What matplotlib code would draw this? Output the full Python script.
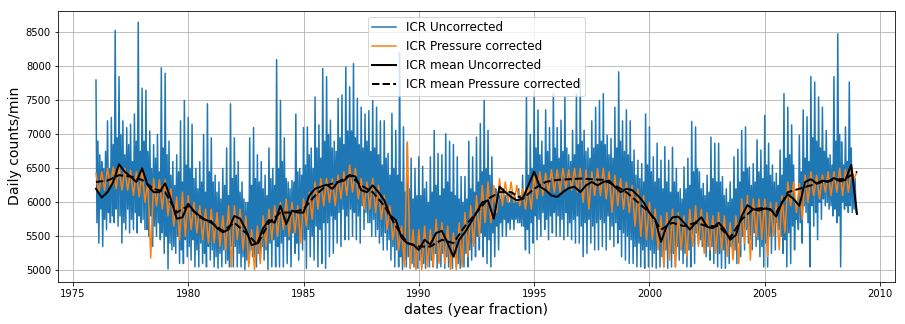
import numpy as np
import matplotlib
matplotlib.use("Agg")
import matplotlib.pyplot as plt

# ICR uncorrected: spike tops / spike bottoms, 6 readings per year (1976 .. 2008)
icr_hi = [
    7800, 6700, 6500, 7200, 7250, 8530,  # 1976
    7850, 7200, 7100, 7150, 7300, 8650,  # 1977
    7680, 7650, 7050, 6850, 7000, 7980,  # 1978
    7900, 6900, 6600, 6700, 7200, 7500,  # 1979
    7250, 7150, 6500, 6600, 7000, 7450,  # 1980
    6950, 6400, 6300, 6500, 6800, 7450,  # 1981
    6950, 6600, 6300, 6000, 6950, 7100,  # 1982
    6700, 6600, 6400, 6800, 6500, 8100,  # 1983
    7500, 6950, 6300, 6320, 7300, 6500,  # 1984
    7100, 7110, 6800, 7550, 7140, 7970,  # 1985
    7850, 7210, 6900, 7530, 7580, 7990,  # 1986
    7700, 8040, 7530, 7400, 7300, 7350,  # 1987
    7500, 7400, 7200, 7200, 6720, 7310,  # 1988
    7060, 8200, 7110, 6870, 6650, 6500,  # 1989
    6670, 6530, 6300, 6670, 7060, 6720,  # 1990
    6700, 7010, 6900, 6850, 6670, 6380,  # 1991
    6380, 6900, 6670, 6960, 7160, 7500,  # 1992
    7060, 6670, 6200, 6100, 6200, 6150,  # 1993
    6150, 6100, 6200, 6400, 7550, 7000,  # 1994
    7650, 7360, 6900, 7360, 7100, 7600,  # 1995
    7100, 7210, 7550, 6700, 7060, 7600,  # 1996
    7800, 7060, 6800, 7200, 7400, 7500,  # 1997
    7600, 6990, 6940, 7400, 7920, 7200,  # 1998
    7360, 7200, 6770, 6620, 6570, 7300,  # 1999
    7110, 6670, 6870, 6620, 6820, 6620,  # 2000
    6810, 6500, 6200, 6520, 6650, 7190,  # 2001
    7110, 6450, 6280, 6400, 6960, 6870,  # 2002
    6870, 6380, 6200, 6300, 6670, 6780,  # 2003
    7060, 7110, 6520, 6570, 6920, 6770,  # 2004
    7280, 6870, 6550, 6430, 6770, 7600,  # 2005
    7400, 7140, 6000, 6990, 7360, 7260,  # 2006
    7850, 7770, 7550, 7400, 7060, 6700,  # 2007
    7850, 8480, 6890, 7110, 7770, 6400,  # 2008
]
icr_lo = [
    5400, 5350, 5600, 5700, 5700, 5650,  # 1976
    5400, 5600, 5550, 5600, 5550, 5700,  # 1977
    5600, 5500, 5350, 5500, 5450, 5250,  # 1978
    5020, 5300, 5250, 5100, 5100, 5200,  # 1979
    5150, 5050, 5050, 5100, 5050, 5150,  # 1980
    5050, 5030, 5050, 5100, 5050, 5050,  # 1981
    5050, 5050, 5010, 5100, 5200, 5050,  # 1982
    5150, 5150, 5010, 5050, 5050, 5050,  # 1983
    5050, 5100, 5050, 5250, 5150, 5300,  # 1984
    5030, 5200, 5150, 5050, 5100, 5030,  # 1985
    5200, 5250, 5400, 5350, 5450, 5450,  # 1986
    5500, 5450, 5400, 5600, 5700, 5500,  # 1987
    5500, 5400, 5300, 5300, 5150, 5050,  # 1988
    5050, 5010, 5050, 5030, 5050, 5030,  # 1989
    5050, 5030, 5050, 5050, 5030, 5050,  # 1990
    5030, 5050, 5030, 5050, 5030, 5050,  # 1991
    5050, 5150, 5200, 5300, 5200, 5100,  # 1992
    5050, 5200, 5300, 5500, 5500, 5600,  # 1993
    5600, 5700, 5650, 5300, 5250, 5400,  # 1994
    5450, 5500, 5600, 5450, 5550, 5500,  # 1995
    5500, 5450, 5500, 5450, 5400, 5400,  # 1996
    5200, 5250, 5400, 5300, 5300, 5350,  # 1997
    5300, 5450, 5350, 5400, 5200, 5150,  # 1998
    5100, 5100, 5050, 5050, 5030, 5050,  # 1999
    5050, 5030, 5050, 5050, 5030, 5050,  # 2000
    5050, 5150, 5100, 5050, 5050, 5100,  # 2001
    5400, 5350, 5200, 5150, 5100, 5050,  # 2002
    5030, 5030, 5100, 5200, 5100, 5200,  # 2003
    5300, 5400, 5300, 5350, 5200, 5050,  # 2004
    5050, 5250, 5300, 5600, 5250, 5050,  # 2005
    5100, 5300, 5600, 5400, 5850, 5050,  # 2006
    5650, 5450, 5750, 5950, 5900, 5800,  # 2007
    5700, 5050, 5900, 5850, 5850, 5850,  # 2008
]
# ICR uncorrected: top / bottom of the dense core band, 6 readings per year
core_hi = [
    6900, 6600, 6750, 6500, 6850, 6950,  # 1976
    7000, 6700, 6850, 6600, 6900, 6750,  # 1977
    6900, 6750, 6500, 6650, 6450, 6800,  # 1978
    6700, 6400, 6250, 6450, 6300, 6550,  # 1979
    6500, 6350, 6200, 6300, 6150, 6450,  # 1980
    6300, 6150, 6050, 6250, 6100, 6350,  # 1981
    6400, 6150, 6050, 6000, 6250, 6350,  # 1982
    6300, 6200, 6100, 6350, 6250, 6500,  # 1983
    6600, 6350, 6200, 6300, 6450, 6400,  # 1984
    6550, 6700, 6500, 6800, 6650, 6900,  # 1985
    7000, 6800, 6750, 6950, 6850, 7050,  # 1986
    7050, 6950, 6850, 6800, 6900, 6750,  # 1987
    6800, 6700, 6550, 6650, 6400, 6500,  # 1988
    6400, 6300, 6150, 6200, 6050, 6100,  # 1989
    6100, 6200, 6000, 6150, 6250, 6100,  # 1990
    6200, 6300, 6150, 6100, 6050, 6000,  # 1991
    6050, 6200, 6150, 6300, 6450, 6500,  # 1992
    6400, 6200, 6100, 6050, 6100, 6000,  # 1993
    6050, 6000, 6100, 6150, 6400, 6500,  # 1994
    6800, 6700, 6550, 6750, 6600, 6800,  # 1995
    6650, 6750, 6800, 6600, 6700, 6850,  # 1996
    6900, 6750, 6650, 6800, 6850, 6900,  # 1997
    6850, 6700, 6650, 6800, 6900, 6750,  # 1998
    6700, 6600, 6400, 6350, 6300, 6550,  # 1999
    6450, 6300, 6350, 6200, 6300, 6150,  # 2000
    6300, 6150, 6050, 6200, 6250, 6450,  # 2001
    6500, 6200, 6100, 6150, 6350, 6300,  # 2002
    6300, 6100, 6000, 6050, 6200, 6300,  # 2003
    6450, 6500, 6250, 6300, 6450, 6350,  # 2004
    6550, 6400, 6300, 6250, 6400, 6650,  # 2005
    6700, 6550, 6000, 6450, 6650, 6600,  # 2006
    6950, 6900, 6800, 6750, 6650, 6550,  # 2007
    6900, 7000, 6550, 6600, 6800, 6350,  # 2008
]
core_lo = [
    5700, 5900, 5750, 5850, 5800, 5900,  # 1976
    5800, 5700, 5900, 5750, 5850, 5800,  # 1977
    5750, 5600, 5800, 5650, 5700, 5550,  # 1978
    5500, 5400, 5350, 5500, 5300, 5450,  # 1979
    5350, 5450, 5300, 5400, 5250, 5350,  # 1980
    5300, 5200, 5250, 5300, 5150, 5350,  # 1981
    5350, 5250, 5200, 5150, 5300, 5200,  # 1982
    5250, 5350, 5300, 5400, 5450, 5350,  # 1983
    5400, 5500, 5450, 5550, 5400, 5500,  # 1984
    5450, 5600, 5500, 5650, 5600, 5700,  # 1985
    5700, 5800, 5750, 5850, 5900, 5800,  # 1986
    5900, 5850, 5800, 5950, 5850, 5700,  # 1987
    5750, 5600, 5500, 5550, 5450, 5350,  # 1988
    5300, 5200, 5150, 5200, 5100, 5150,  # 1989
    5150, 5100, 5200, 5150, 5250, 5200,  # 1990
    5250, 5200, 5150, 5200, 5100, 5200,  # 1991
    5250, 5300, 5400, 5500, 5550, 5500,  # 1992
    5450, 5550, 5650, 5700, 5750, 5700,  # 1993
    5750, 5750, 5700, 5650, 5600, 5700,  # 1994
    5800, 5750, 5850, 5750, 5800, 5850,  # 1995
    5800, 5750, 5850, 5700, 5750, 5800,  # 1996
    5650, 5700, 5750, 5650, 5700, 5750,  # 1997
    5700, 5800, 5650, 5700, 5600, 5550,  # 1998
    5500, 5450, 5350, 5400, 5300, 5350,  # 1999
    5300, 5250, 5350, 5200, 5300, 5250,  # 2000
    5250, 5350, 5300, 5250, 5300, 5400,  # 2001
    5550, 5450, 5400, 5350, 5350, 5300,  # 2002
    5250, 5300, 5250, 5350, 5300, 5400,  # 2003
    5500, 5600, 5450, 5550, 5450, 5350,  # 2004
    5400, 5500, 5550, 5700, 5500, 5450,  # 2005
    5550, 5650, 5750, 5700, 5950, 5700,  # 2006
    5950, 5850, 6000, 6050, 6000, 5950,  # 2007
    5900, 5800, 6000, 5950, 5950, 5900,  # 2008
]

# ICR pressure corrected: upper / lower envelope, 4 readings per year
pc_hi = [
    6430, 6450, 6500, 6520,  # 1976
    6520, 6500, 6470, 6450,  # 1977
    6470, 6300, 6350, 6330,  # 1978
    6330, 6200, 6080, 6150,  # 1979
    6100, 6000, 5950, 5900,  # 1980
    5900, 5850, 5800, 5950,  # 1981
    5950, 5900, 5800, 5600,  # 1982
    5650, 5800, 5900, 5950,  # 1983
    6000, 6050, 6000, 5950,  # 1984
    6050, 6150, 6300, 6350,  # 1985
    6350, 6350, 6400, 6450,  # 1986
    6550, 6500, 6350, 6300,  # 1987
    6350, 6250, 6100, 5950,  # 1988
    5750, 5650, 6890, 5600,  # 1989
    5600, 5650, 5600, 5750,  # 1990
    5700, 5650, 5550, 5700,  # 1991
    5850, 5950, 6100, 6250,  # 1992
    6300, 6250, 6350, 6300,  # 1993
    6300, 6250, 6200, 6250,  # 1994
    6400, 6450, 6430, 6480,  # 1995
    6480, 6500, 6480, 6500,  # 1996
    6500, 6480, 6450, 6500,  # 1997
    6500, 6450, 6400, 6350,  # 1998
    6300, 6250, 6200, 6100,  # 1999
    6000, 5900, 5800, 5850,  # 2000
    5900, 5850, 5800, 5900,  # 2001
    5950, 5900, 5850, 5800,  # 2002
    5850, 5800, 5700, 5800,  # 2003
    6050, 6100, 6050, 6050,  # 2004
    6050, 6000, 6000, 6100,  # 2005
    6300, 6300, 6280, 6400,  # 2006
    6450, 6400, 6400, 6450,  # 2007
    6450, 6500, 6480, 6500,  # 2008
]
pc_lo = [
    6150, 6180, 6230, 6200,  # 1976
    6180, 6180, 6100, 6080,  # 1977
    6000, 5180, 5950, 5900,  # 1978
    5800, 5650, 5450, 5500,  # 1979
    5600, 5550, 5450, 5400,  # 1980
    5400, 5350, 5300, 5050,  # 1981
    5450, 5300, 5050, 5010,  # 1982
    5100, 5350, 5450, 5500,  # 1983
    5600, 5500, 5550, 5400,  # 1984
    5650, 5750, 5900, 5950,  # 1985
    6000, 5950, 6050, 6100,  # 1986
    6150, 6050, 5900, 5900,  # 1987
    5850, 5750, 5600, 5450,  # 1988
    5300, 5050, 5030, 5010,  # 1989
    5010, 5050, 5050, 5100,  # 1990
    5100, 5010, 5010, 5050,  # 1991
    5200, 5350, 5500, 5700,  # 1992
    5700, 5850, 5950, 6000,  # 1993
    6000, 5950, 5900, 5900,  # 1994
    6050, 6100, 6150, 6150,  # 1995
    6150, 6200, 6180, 6150,  # 1996
    6000, 5900, 6100, 6100,  # 1997
    6050, 5850, 5950, 5900,  # 1998
    5850, 5650, 5500, 5450,  # 1999
    5450, 5300, 5050, 5150,  # 2000
    5050, 5300, 5200, 5350,  # 2001
    5350, 5250, 5300, 5250,  # 2002
    5300, 5200, 5150, 5100,  # 2003
    5400, 5150, 5500, 5450,  # 2004
    5200, 5500, 5300, 5550,  # 2005
    5950, 5850, 5750, 6000,  # 2006
    6100, 6050, 6150, 6100,  # 2007
    6150, 6100, 6150, 6350,  # 2008
]
pc_last = 6450  # 2009.0

# running means, quarterly (uncorrected) and half-yearly (pressure corrected)
mean_unc = [
    6200, 6070, 6150, 6300, 6560, 6450, 6380, 6300, 6500, 6250, 6150, 6150,
    6280, 6050, 5760, 5780, 5980, 5870, 5800, 5740, 5720, 5620, 5560, 5600,
    5800, 5760, 5600, 5370, 5400, 5620, 5740, 5700, 5950, 5680, 5880, 5850,
    5850, 6100, 6200, 6230, 6260, 6200, 6300, 6320, 6400, 6380, 6180, 6150,
    6250, 6150, 6030, 5810, 5740, 5480, 5400, 5380, 5300, 5450, 5380, 5550,
    5580, 5400, 5200, 5450, 5560, 5700, 5850, 6000, 6030, 5760, 6230, 6150,
    6080, 6030, 6050, 6250, 6450, 6230, 6180, 6100, 6080, 6150, 6210, 6230,
    6150, 6250, 6300, 6250, 6300, 6320, 6230, 6150, 6200, 6180, 6100, 6000,
    5850, 5750, 5420, 5650, 5780, 5790, 5700, 5600, 5700, 5780, 5640, 5620,
    5700, 5600, 5450, 5520, 5800, 5960, 5900, 5880, 5910, 5900, 5790, 6000,
    6120, 6050, 5950, 6300, 6340, 6280, 6320, 6300, 6360, 6310, 6330, 6550,
    5830,
]
mean_pc = [
    6300, 6320, 6400, 6380, 6330, 6200, 6150, 5850, 5950, 5780, 5700, 5580,
    5700, 5550, 5380, 5700, 5850, 5850, 5900, 6100, 6250, 6300, 6400, 6250,
    6150, 5950, 5650, 5400, 5350, 5350, 5450, 5400, 5650, 5850, 6050, 6150,
    6150, 6050, 6200, 6300, 6330, 6340, 6350, 6340, 6330, 6250, 6150, 6000,
    5850, 5600, 5700, 5650, 5700, 5650, 5650, 5480, 5750, 5900, 5920, 5850,
    6150, 6200, 6250, 6300, 6330, 6350, 6450,
]

# each 1/6 year: spike top, core bottom, core top, spike bottom
unc = np.column_stack([icr_hi, core_lo, core_hi, icr_lo]).ravel()
t_unc = 1976 + np.arange(len(unc)) / 24
pc = np.append(np.column_stack([pc_hi, pc_lo]).ravel(), pc_last)
t_pc = 1976 + np.arange(len(pc)) / 8
t_mu = 1976 + np.arange(len(mean_unc)) / 4
t_mp = 1976 + np.arange(len(mean_pc)) / 2

fig = plt.figure(figsize=(905 / 72, 324 / 72), dpi=72)
ax = fig.add_axes([0.064, 0.130, 0.925, 0.837])
ax.plot(t_unc, unc, color='#1f77b4', lw=1.5, label='ICR Uncorrected')
ax.plot(t_pc, pc, color='#ff7f0e', lw=1.5, label='ICR Pressure corrected')
ax.plot(t_mu, mean_unc, color='k', lw=2, label='ICR mean Uncorrected')
ax.plot(t_mp, mean_pc, color='k', lw=2, ls='--', label='ICR mean Pressure corrected')
ax.set_ylim(4830, 8820)
ax.grid(True)
ax.set_xlabel('dates (year fraction)', fontsize=14)
ax.set_ylabel('Daily counts/min', fontsize=14)
ax.legend(loc='upper center', fontsize=12)
fig.savefig('out.png', dpi=72)
